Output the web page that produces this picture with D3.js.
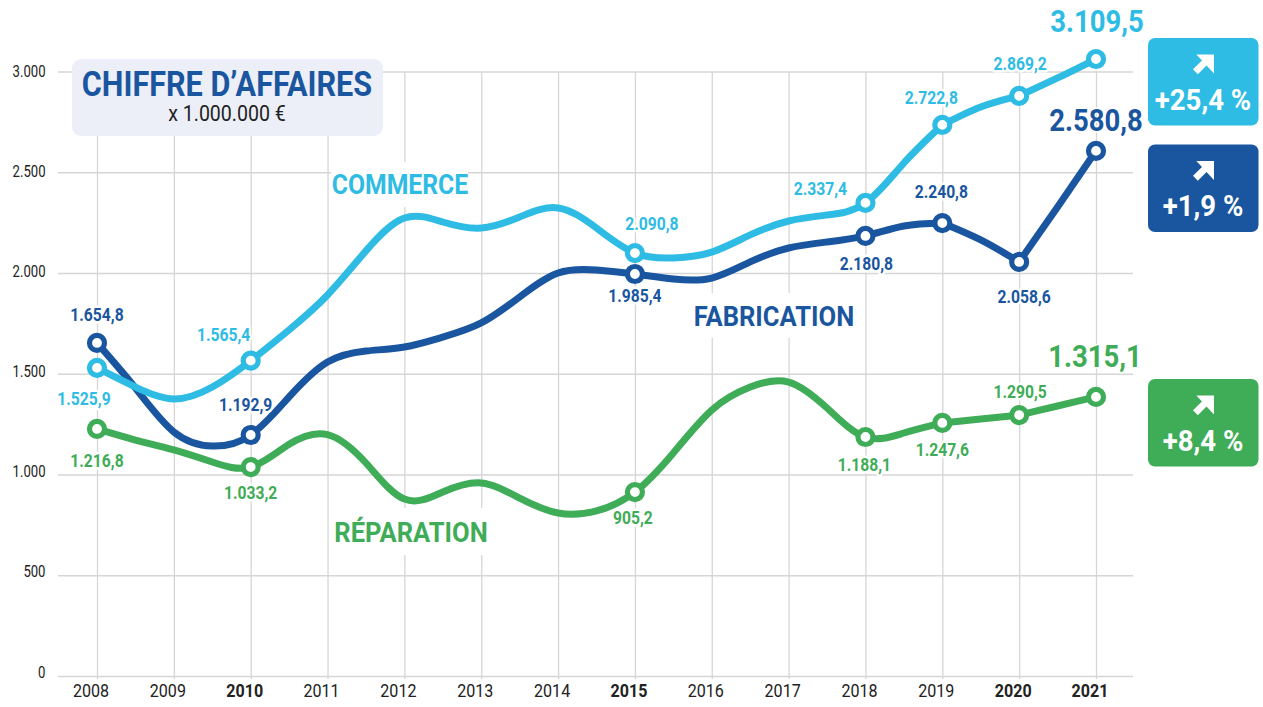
<!DOCTYPE html>
<html><head><meta charset="utf-8">
<script src="https://cdn.jsdelivr.net/npm/d3@7/dist/d3.min.js"></script>
<style>html,body{margin:0;padding:0;background:#fff}svg{display:block}text{font-family:Roboto,sans-serif}</style>
</head><body><svg id="c" width="1263" height="707"></svg>
<script>
const years=[2008,2009,2010,2011,2012,2013,2014,2015,2016,2017,2018,2019,2020,2021];
const boldYears=[2010,2015,2020,2021];
const yTicks=[0,500,1000,1500,2000,2500,3000];
const sampleYears=[2008,2008.5,2009,2009.5,2010,2010.5,2011,2011.5,2012,2012.5,2013,2013.5,2014,2014.5,2015,2015.5,2016,2016.5,2017,2017.5,2018,2018.5,2019,2019.5,2020,2020.5,2021];
const commerce=[1529,1434,1375,1434,1565,1718,1891,2110,2273,2253,2223,2278,2323,2223,2099,2075,2104,2189,2258,2288,2348,2546,2735,2824,2879,2968,3062];
const fabrication=[1653,1429,1211,1141,1196,1385,1558,1613,1633,1682,1752,1881,2000,2015,1995,1970,1975,2055,2124,2154,2184,2233,2248,2164,2055,2328,2606];
const reparation=[1226,1171,1122,1062,1037,1150,1198,1057,878,913,958,883,809,819,913,1107,1320,1434,1459,1330,1186,1206,1256,1275,1295,1340,1385];
const markerYears=[2008,2010,2015,2018,2019,2020,2021];
const cornerYears=[2019,2020];
const commerceLabels=["1.525,9","1.565,4","2.090,8","2.337,4","2.722,8","2.869,2","3.109,5"];
const fabricationLabels=["1.654,8","1.192,9","1.985,4","2.180,8","2.240,8","2.058,6","2.580,8"];
const reparationLabels=["1.216,8","1.033,2","905,2","1.188,1","1.247,6","1.290,5","1.315,1"];
const badgeTexts=["+25,4 %","+1,9 %","+8,4 %"];

// layout (pixels), separate from the data
const BLUE="#1a56a0",SKY="#2ebce4",GREEN="#3fac57",GRID="#d6d6d6",INK="#222";
const commerceOff=[[-13,37],[-27,-20],[17,-23],[-45,-8],[-11,-21],[1,-26],[1,-27]];
const fabricationOff=[[0,-22],[-5,-24],[0,28],[1,34],[-1,-25],[5,41],[0,-20]];
const reparationOff=[[0,38],[0,32],[-2,32],[-1,34],[0,33],[1,-17],[-1,-30]];

const svg=d3.select("#c");
const x=d3.scaleLinear().domain([2008,2021]).range([97,1096]);
const y=d3.scaleLinear().domain([0,3000]).range([676,71.5]);
const fmt=d3.formatLocale({decimal:",",thousands:".",grouping:[3],currency:["","€"]}).format(",");

// grid via axes
const gx=svg.append("g").attr("transform","translate(0,676)").call(
  d3.axisBottom(x).tickValues(years).tickFormat(d3.format("d")).tickSize(0).tickPadding(0));
gx.select(".domain").remove();
gx.selectAll(".tick line").attr("y1",3).attr("y2",y(3000)-676).attr("stroke",GRID).attr("stroke-width",1.3);
const XS=.92;
gx.selectAll(".tick text").attr("fill",INK).attr("font-size",17.5)
  .attr("font-weight",d=>boldYears.includes(d)?700:400)
  .attr("text-anchor","middle").attr("x",-6.5/XS).attr("y",21).attr("dy",0)
  .attr("transform",`scale(${XS},1)`);
const gy=svg.append("g").attr("transform","translate(58,0)").call(
  d3.axisLeft(y).tickValues(yTicks).tickFormat(fmt).tickSize(0));
gy.select(".domain").remove();
gy.selectAll(".tick line").attr("x2",1133-58).attr("stroke",GRID).attr("stroke-width",1.3);
const YS=.82;
gy.selectAll(".tick text").attr("fill",INK).attr("font-size",16).attr("text-anchor","end")
  .attr("x",-12.5/YS).attr("y",d=>4.5-3.5*(1-d/3000)).attr("dy",0).attr("transform",`scale(${YS},1)`);

// knock-outs behind series names
const knock=[[331,162,137,45],[692,293,163,45],[333,508,155,47]];
svg.append("g").selectAll("rect").data(knock).join("rect")
  .attr("x",d=>d[0]).attr("y",d=>d[1]).attr("width",d=>d[2]).attr("height",d=>d[3]).attr("fill","#fff");

// title box
svg.append("rect").attr("x",72).attr("y",59).attr("width",311).attr("height",77).attr("rx",9).attr("fill","#eceff8");
function stext(px,py,str,size,weight,fill,sx,anchor){
  return svg.append("text").attr("transform",`translate(${px},${py}) scale(${sx},1)`)
    .attr("text-anchor",anchor||"middle").attr("font-size",size).attr("font-weight",weight).attr("fill",fill).text(str);
}
stext(227,96,"CHIFFRE D’AFFAIRES",35,700,BLUE,.875);
stext(227,121,"x  1.000.000 €",21.5,400,INK,.91);

// lines: split at the sharp corners, smooth elsewhere
const line=d3.line().x(d=>x(d.t)).y(d=>y(d.v)).curve(d3.curveNatural);
function pieces(vals){
  const out=[];let cur=[];
  sampleYears.forEach((t,i)=>{
    cur.push({t,v:vals[i]});
    if(cornerYears.includes(t)){out.push(cur);cur=[{t,v:vals[i]}];}
  });
  out.push(cur);return out;
}
const series=[
  {v:reparation,c:GREEN,l:reparationLabels,o:reparationOff},
  {v:fabrication,c:BLUE,l:fabricationLabels,o:fabricationOff},
  {v:commerce,c:SKY,l:commerceLabels,o:commerceOff}];
series.forEach(s=>{
  svg.append("g").selectAll("path").data(pieces(s.v)).join("path").attr("d",line)
    .attr("fill","none").attr("stroke",s.c).attr("stroke-width",7).attr("stroke-linecap","round");
  svg.append("g").selectAll("circle").data(markerYears).join("circle")
    .attr("cx",d=>x(d)).attr("cy",d=>y(s.v[sampleYears.indexOf(d)]))
    .attr("r",7.5).attr("fill","#fff").attr("stroke",s.c).attr("stroke-width",5.2);
});
// value labels
series.forEach(s=>{
  markerYears.forEach((yr,i)=>{
    const last=yr===2021, off=s.o[i];
    const px=x(yr)+off[0], py=y(s.v[sampleYears.indexOf(yr)])+off[1];
    stext(px,py,s.l[i],last?32:18,700,s.c,last?.86:.87)
      .attr("stroke","#fff").attr("stroke-width",last?3:5).attr("stroke-linejoin","round").attr("paint-order","stroke");
  });
});
// series names
stext(400,194,"COMMERCE",27.5,700,SKY,.9);
stext(774,326,"FABRICATION",27.5,700,BLUE,.93);
stext(411,542,"RÉPARATION",27.5,700,GREEN,.93);

// badges
const badgeTops=[38,144.5,379];
const badgeCols=[SKY,BLUE,GREEN];
badgeTexts.forEach((t,i)=>{
  const top=badgeTops[i];
  svg.append("rect").attr("x",1148).attr("y",top).attr("width",110.5).attr("height",87.5).attr("rx",7).attr("fill",badgeCols[i]);
  svg.append("path").attr("transform",`translate(1193,${top+16.5})`).attr("d","M3.3,0H21V19L13.5,11L4.8,19.8L0,14.7L9,6Z").attr("fill","#fff");
  stext(1203,top+71.5,t,29,700,"#fff",.95);
});
</script></body></html>
